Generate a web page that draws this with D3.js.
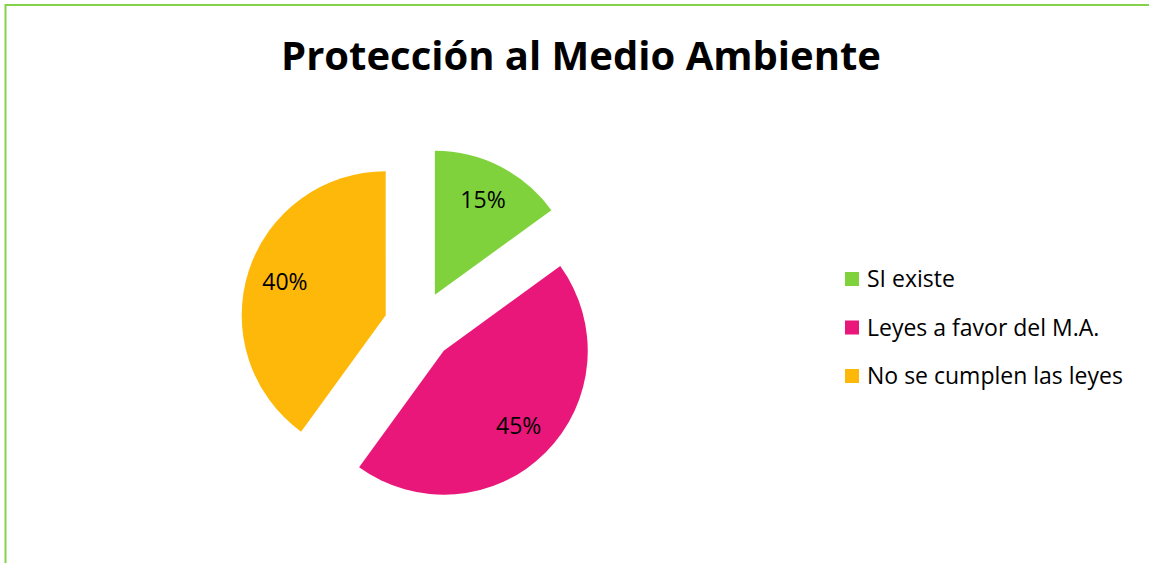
<!DOCTYPE html>
<html>
<head>
<meta charset="utf-8">
<script src="https://d3js.org/d3.v7.min.js"></script>
<style>
  body { margin: 0; background: #fff; }
  svg { display: block; font-family: "Open Sans", Lato, sans-serif; }
</style>
</head>
<body>
<svg id="chart" width="1149" height="563"></svg>
<script>
// data
const categories = ["SI existe", "Leyes a favor del M.A.", "No se cumplen las leyes"];
const values = [15, 45, 40];
const colors = ["#80d23c", "#e9177a", "#feb80a"];
const title = "Protección al Medio Ambiente";

const width = 1149, height = 563;
const svg = d3.select("#chart");

// frame (left, top, right run off the picture)
svg.append("rect")
  .attr("x", 5.5).attr("y", 5)
  .attr("width", 1200).attr("height", 600)
  .attr("fill", "none")
  .attr("stroke", "#83d34a")
  .attr("stroke-width", 2);

svg.append("text")
  .attr("x", 581).attr("y", 70)
  .attr("text-anchor", "middle")
  .attr("font-weight", "bold")
  .attr("font-size", 40)
  .text(title);

// pie
const cx = 419, cy = 326, radius = 144, explode = 35, labelR = 106;
const total = d3.sum(values);
const pie = d3.pie().sort(null).value(d => d);
const arc = d3.arc().innerRadius(0).outerRadius(radius);
const arcs = pie(values);

const g = svg.append("g").attr("transform", `translate(${cx},${cy})`);

const slice = g.selectAll("g.slice")
  .data(arcs)
  .join("g")
  .attr("class", "slice")
  .attr("transform", d => {
    const a = (d.startAngle + d.endAngle) / 2;
    return `translate(${explode * Math.sin(a)},${-explode * Math.cos(a)})`;
  });

slice.append("path")
  .attr("d", arc)
  .attr("fill", (d, i) => colors[i]);

slice.append("text")
  .attr("x", d => labelR * Math.sin((d.startAngle + d.endAngle) / 2))
  .attr("y", d => -labelR * Math.cos((d.startAngle + d.endAngle) / 2))
  .attr("dy", "0.35em")
  .attr("text-anchor", "middle")
  .attr("font-size", 23)
  .attr("fill", "#000")
  .text(d => Math.round(d.data / total * 100) + "%");

// legend
const legendY = d3.scalePoint().domain(categories).range([279, 376]);
const legend = svg.append("g");
const item = legend.selectAll("g")
  .data(categories)
  .join("g")
  .attr("transform", d => `translate(845,${legendY(d)})`);

item.append("rect")
  .attr("x", 0).attr("y", -7)
  .attr("width", 14).attr("height", 14)
  .attr("fill", (d, i) => colors[i]);

item.append("text")
  .attr("x", 22)
  .attr("dy", "0.35em")
  .attr("font-size", 23)
  .text(d => d);
</script>
</body>
</html>
